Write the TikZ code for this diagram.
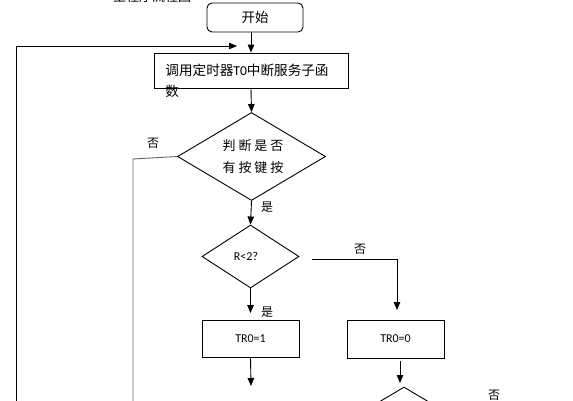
\documentclass[tikz,border=0pt]{standalone}
\usepackage{fontspec}
\setmainfont{Carlito}
\newfontfamily\cjk{Noto Sans CJK SC}
\newfontfamily\cjksp[LetterSpace=22]{Noto Sans CJK SC}
\usetikzlibrary{shapes.geometric,arrows.meta}
\begin{document}
\begin{tikzpicture}[x=1pt,y=-1pt,
  line width=0.9pt,
  arr/.style={-{Triangle[length=8pt,width=6.5pt]}},
  boxn/.style={draw, rectangle, inner sep=0pt},
  dia/.style={draw, diamond, inner sep=0pt},
  lbl/.style={inner sep=0pt, font=\cjk\fontsize{12}{14}\selectfont}]
\useasboundingbox (0,0) rectangle (573,400);
\clip (0,0) rectangle (573,400);
\fill[white] (0,0) rectangle (573,400);
% title (cut off at top)
\node[inner sep=0pt, font=\cjk\fontsize{13}{15}\selectfont] (title) at (152,-3.5) {主程序流程图};
% start
\node[boxn, rounded corners=5pt, minimum width=96pt, minimum height=29pt,
  font=\cjk\fontsize{13.5}{15}\selectfont] (start) at (255,17.5) {开始};
% process box
\node[boxn, minimum width=194pt, minimum height=35pt] (proc) at (251,70.5) {};
\node[inner sep=0pt, anchor=west, font=\fontsize{13.6}{16}\selectfont] (proct) at (165,70)
  {{\cjk 调用定时器}T0{\cjk 中断服务子函}};
\node[inner sep=0pt, anchor=west, font=\cjk\fontsize{13.6}{16}\selectfont] (proct2) at (165,91) {数};
% diamond 1
\node[dia, minimum width=148pt, minimum height=88pt] (d1) at (251.5,156.5) {};
\node[inner sep=0pt, align=center, font=\cjksp\fontsize{13}{22}\selectfont] (d1t) at (253,157) {判断是否\\有按键按};
% diamond 2
\node[dia, minimum width=97pt, minimum height=63pt] (d2) at (250.5,256.5) {};
\node[inner sep=0pt, font=\fontsize{12}{14}\selectfont] (d2t) at (246,256) {R<2?};
% boxes
\node[boxn, minimum width=97pt, minimum height=37pt, font=\fontsize{12}{14}\selectfont] (b1) at (250.5,338.5) {TR0=1};
\node[boxn, minimum width=97pt, minimum height=38pt, font=\fontsize{12}{14}\selectfont] (b0) at (395.5,339) {TR0=0};
% diamond 3 (cut off)
\node[dia, minimum width=148pt, minimum height=88pt] (d3) at (404,431) {};
% coordinates
\coordinate (loopTL) at (16,46);
\coordinate (loopBL) at (16,402);
\coordinate (loopEnd) at (237,46);
\coordinate (noL) at (133,159);
\coordinate (noLB) at (133,402);
\coordinate (d2r) at (312,259);
\coordinate (d2rc) at (397,259);
\coordinate (b0in) at (397,310);
\coordinate (b1out) at (251,386);
\coordinate (b0top) at (400,361);
\coordinate (d3in) at (400,383);
% connectors
\draw[arr] (251,32) -- (proc.north -| 251,0);
\draw[arr] (proc.south -| 251,0) -- (d1.north);
\draw[arr] (loopBL) -- (loopTL) -- (loopEnd);
\draw[gray!80!black] (d1.west) -- (noL) -- (noLB);
\draw[arr] (d1.south) -- (d2.north);
\draw[arr] (d2r) -- (d2rc) -- (b0in);
\draw[arr] (d2.south) -- (250.5,313);
\draw[arr] (b1.south) -- (b1out);
\draw[arr] (b0top) -- (d3in);
% labels
\node[lbl] (no1) at (153,143) {否};
\node[lbl] (yes1) at (267,207) {是};
\node[lbl] (no2) at (360,249) {否};
\node[lbl] (yes2) at (267,312) {是};
\node[lbl] (no3) at (494,395) {否};
\end{tikzpicture}
\end{document}
